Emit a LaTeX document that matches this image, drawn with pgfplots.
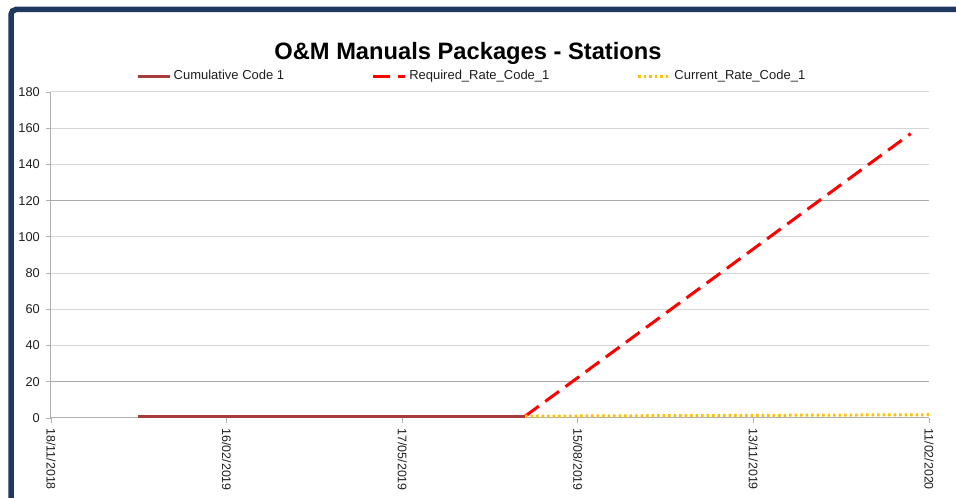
\documentclass[border=0pt]{standalone}
\usepackage{pgfplots}
\pgfplotsset{compat=1.18}
\usepackage{fontspec}
\setmainfont{Liberation Sans}
\definecolor{framec}{RGB}{31,56,94}
\definecolor{cumc}{RGB}{168,60,60}
\definecolor{curc}{RGB}{255,192,0}
\definecolor{gridc}{RGB}{214,214,214}
\definecolor{gridd}{RGB}{170,170,170}
\definecolor{axc}{RGB}{176,176,176}
\definecolor{txt}{RGB}{30,30,30}
\pgfplotstableread{
x y
44.4 1
243 1
}\cumdata
\pgfplotstableread{
x y
243 1
440.6 157
}\reqdata
\pgfplotstableread{
x y
243 1
450 1.8
}\curdata
\begin{document}
\begin{tikzpicture}[x=1pt,y=1pt]
\useasboundingbox (0,0) rectangle (956,498);
\begin{scope}
\clip (0,0) rectangle (956,498);
\draw[framec, line width=5.5pt, rounded corners=5pt] (11,-20) -- (11,488.5) -- (990,488.5);
\end{scope}
\node[font=\fontsize{23.7}{28}\selectfont\bfseries, text=black] at (468,444.5) {O\&M Manuals Packages - Stations};
\begin{axis}[
  scale only axis, width=878pt, height=326pt,
  at={(51pt,80pt)}, anchor=origin,
  xmin=0, xmax=450, ymin=0, ymax=180,
  axis x line=bottom, axis y line=left,
  axis line style={axc, line width=1pt, -},
  xtick={0,90,180,270,360,450},
  xticklabels={18/11/2018,16/02/2019,17/05/2019,15/08/2019,13/11/2019,11/02/2020},
  ytick={0,20,...,180},
  /pgf/number format/assume math mode=true,
  ymajorgrids, grid style={gridc, line width=1pt},
  tick align=outside, major tick length=5pt,
  tick style={axc, line width=0.8pt},
  xticklabel style={rotate=-90, anchor=west, font=\fontsize{12.4}{14}\selectfont, text=txt, inner sep=0pt, xshift=5.5pt},
  yticklabel style={anchor=east, font=\fontsize{12.8}{14}\selectfont, text=txt, inner sep=0pt, xshift=-6pt},
  clip=false,
  legend columns=3,
  legend cell align=left,
  legend image code/.code={\draw[#1] (0pt,0pt) -- (32pt,0pt);},
  legend style={at={(axis description cs:0.0968,1.049)}, anchor=west, draw=none, fill=none,
    inner sep=0pt, font=\fontsize{13}{14}\selectfont, text=txt,
    nodes={inner sep=2.5pt},
    /tikz/every even column/.append style={column sep=85pt}},
]
\draw[gridd, line width=1pt] (axis cs:0,120) -- (axis cs:450,120);
\draw[gridd, line width=1pt] (axis cs:0,20) -- (axis cs:450,20);
\addplot[cumc, line width=3pt] table[x=x,y=y] {\cumdata};
\addlegendentry{Cumulative Code 1}
\addplot[red, line width=3pt, dash pattern=on 17pt off 8pt] table[x=x,y=y] {\reqdata};
\addlegendentry{Required\_Rate\_Code\_1}
\addplot[curc, line width=3pt, dash pattern=on 2.5pt off 3pt] table[x=x,y=y] {\curdata};
\addlegendentry{Current\_Rate\_Code\_1}
\end{axis}
\end{tikzpicture}
\end{document}
